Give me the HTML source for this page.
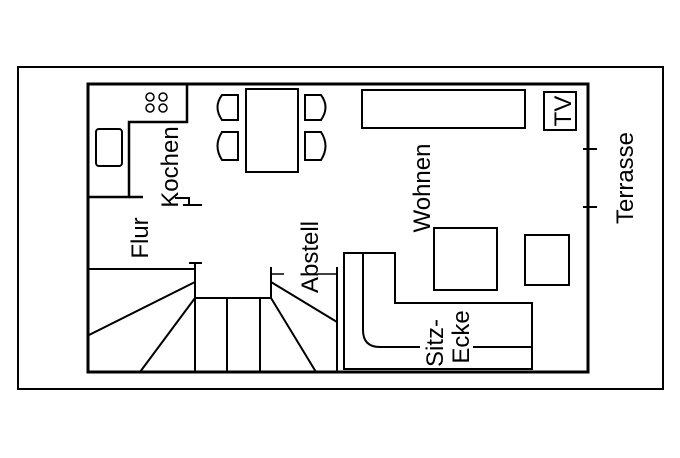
<!DOCTYPE html>
<html><head><style>
html,body{margin:0;padding:0;background:#fff;}
svg text{font-family:"Liberation Sans",Arial,sans-serif;font-size:24px;fill:#000;}
</style></head><body>
<svg width="680" height="453" viewBox="0 0 680 453" xmlns="http://www.w3.org/2000/svg">
<g fill="none" stroke="#000" stroke-width="2">
<rect x="18" y="67" width="645" height="322" stroke-width="2"/>
<rect x="88" y="84" width="500" height="288" stroke-width="3"/>
<!-- kitchen -->
<polyline points="187,84 187,122 129,122 129,197 88,197" stroke-width="2.5"/>
<line x1="129" y1="197" x2="143" y2="197" stroke-width="2.5"/>
<rect x="96" y="129" width="26" height="37" rx="3"/>
<g stroke-width="1.5">
<circle cx="150" cy="97" r="4"/><circle cx="163" cy="97" r="4"/>
<circle cx="150" cy="108" r="4"/><circle cx="163" cy="108" r="4"/>
</g>
<polyline points="175,198 189,198 189,205" stroke-width="2"/>
<line x1="183" y1="205" x2="202" y2="205"/>
<!-- table & chairs -->
<rect x="246" y="89" width="52" height="83"/>
<path d="M238,95 H222 Q213,107 222,120 H238 Z"/>
<path d="M238,132 H222 Q213,146 222,160 H238 Z"/>
<path d="M305,95 H321 Q330,107 321,120 H305 Z"/>
<path d="M305,132 H321 Q330,146 321,160 H305 Z"/>
<!-- flur / stairs -->
<line x1="88" y1="269" x2="195" y2="269"/>
<line x1="189" y1="263" x2="202" y2="263"/>
<line x1="195" y1="263" x2="195" y2="372"/>
<line x1="195" y1="298" x2="271" y2="298"/>
<line x1="271" y1="267" x2="271" y2="298"/>
<line x1="195" y1="282" x2="89" y2="335"/>
<line x1="195" y1="298" x2="140" y2="372"/>
<line x1="227" y1="298" x2="227" y2="372"/>
<line x1="260" y1="298" x2="260" y2="372"/>
<line x1="271" y1="298" x2="316" y2="372"/>
<line x1="271" y1="282" x2="337" y2="322"/>
<line x1="337" y1="267" x2="337" y2="372"/>
<line x1="271" y1="274" x2="284" y2="274" stroke-width="1.5"/>
<line x1="318" y1="274" x2="337" y2="274" stroke-width="1.5"/>
<!-- sofa -->
<polygon points="344,253 395,253 395,303 532,303 532,369 344,369"/>
<path d="M363,253 V330 Q363,347 380,347 H420"/>
<line x1="473" y1="347" x2="532" y2="347"/>
<!-- living -->
<rect x="434" y="228" width="63" height="62"/>
<rect x="525" y="235" width="44" height="50"/>
<rect x="362" y="90" width="163" height="38"/>
<rect x="544" y="92" width="32" height="38"/>
<line x1="583" y1="149" x2="597" y2="149"/>
<line x1="583" y1="207" x2="597" y2="207"/>
</g>
<g text-anchor="middle">
<text transform="translate(178,167) rotate(-90)">Kochen</text>
<text transform="translate(148,238) rotate(-90)">Flur</text>
<text transform="translate(318,257) rotate(-90)">Abstell</text>
<text transform="translate(430,188) rotate(-90)">Wohnen</text>
<text transform="translate(443,343) rotate(-90)">Sitz-</text>
<text transform="translate(469,337) rotate(-90)">Ecke</text>
<text transform="translate(571,111) rotate(-90)">TV</text>
<text transform="translate(633,178) rotate(-90)">Terrasse</text>
</g>
</svg>
</body></html>
